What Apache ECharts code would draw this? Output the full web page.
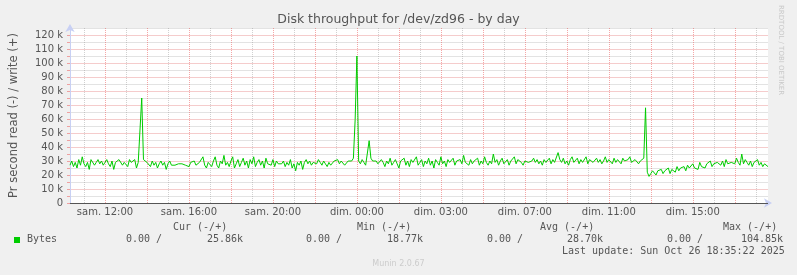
<!DOCTYPE html>
<html><head><meta charset="utf-8">
<script src="https://cdn.jsdelivr.net/npm/echarts@6/dist/echarts.min.js"></script>
<style>html,body{margin:0;padding:0;background:#f0f0f0}#c{width:797px;height:275px}</style>
</head><body><div id="c"></div>
<script>
// ---- data ----
const titleText = 'Disk throughput for /dev/zd96 - by day';
const yAxisName = 'Pr second read (-) / write (+)';
// x tick labels and the 5-minute sample index at which each falls
const tickLabels = ['sam. 12:00','sam. 16:00','sam. 20:00','dim. 00:00','dim. 03:00','dim. 07:00','dim. 11:00','dim. 15:00'];
const tickSamples = [20,68,116,164,212,260,308,356];
// y ticks (k)
const yTickValues = [0,10,20,30,40,50,60,70,80,90,100,110,120];
// write bytes per second, in k, one value per 5-minute sample
const writeK = [
27,30,26,29,25,31,27,33,28,26,29,24,31,30,27,29,31,28,30,27,
29,31,28,26,30,24,29,28,31,30,27,29,30,26,31,29,28,31,25,29,30,
75,
31,30,29,28,26,30,27,29,25,28,30,27,29,24,28,30,27,28,
27,26,28,27,28,28,27,28,26,29,28,30,27,26,29,28,33,27,25,29,
28,26,30,33,27,25,30,28,34,27,29,26,30,33,25,28,31,26,29,32,
27,30,25,31,28,33,26,29,31,27,30,25,32,28,29,27,31,26,30,28,
29,28,30,26,29,27,31,25,28,23,29,27,30,24,29,31,28,30,27,29,
30,28,31,29,27,30,28,26,29,27,28,30,29,31,28,30,29,27,28,30,31,30,
32,59.5,105,30,28,31,29,27,28,44.5,32,30,31,30,28,
27,31,29,26,30,28,32,27,29,31,28,25,30,29,32,27,30,26,31,29,28,33,27,
29,31,26,30,28,32,27,30,25,31,29,27,33,28,30,26,31,29,28,32,
27,30,29,31,28,34,29,30,27,31,28,30,29,32,27,30,28,33,29,27,
30,28,35,29,31,27,30,32,28,29,31,27,30,29,33,28,31,30,29,27,
30,31,29,28,30,32,29,31,28,30,27,31,29,30,32,28,31,29,30,36,
31,29,32,28,30,27,31,33,29,30,32,28,31,29,30,33,28,31,30,29,
30,32,29,31,28,30,33,29,31,30,28,32,29,31,30,28,32,30,29,31,33,29,30,31,32,28,30,31,32,
68,
22,19,21,23,22,20,23,22,24,21,23,22,25,21,24,23,22,26,23,25,
24,26,23,27,25,24,28,25,26,24,29,26,27,25,28,27,30,26,28,27,
29,28,27,30,26,31,28,27,29,30,28,32,29,27,35,28,31,29,27,30,
26,29,28,31,27,29,26,28,27,26
];
const seriesName = 'Bytes';
const statHeaders = ['Cur (-/+)','Min (-/+)','Avg (-/+)','Max (-/+)'];
const statRead = ['0.00 /','0.00 /','0.00 /','0.00 /'];
const statWrite = ['25.86k','18.77k','28.70k','104.85k'];
const lastUpdate = 'Last update: Sun Oct 26 18:35:22 2025';
const footer = 'Munin 2.0.67';
const sideText = 'RRDTOOL / TOBI OETIKER';

// ---- chart ----
const categories = writeK.map((_, i) => i);
const chart = echarts.init(document.getElementById('c'), null, {renderer: 'canvas'});
const sans = 'DejaVu Sans';
const RED = 'rgba(235,80,80,0.5)';
const GRAY = 'rgba(140,140,140,0.4)';
const RED_H = '#f5cccc';
const GRAY_H = '#e3e3e3';
const statHeaderX = [173, 357, 540, 723];
const statReadX = [126, 306, 487, 667];
const statWriteX = [207, 387, 567, 741];
const g = [];
g.push({type:'text', left:'center', top:13, style:{text:titleText, font:'12.5px "DejaVu Sans"', fill:'#555'}});
g.push({type:'text', x:784, y:5, rotation:-Math.PI/2, style:{text:sideText, font:'7px "DejaVu Sans"', fill:'#c8c8c8'}});
statHeaders.forEach((t,i)=>g.push({type:'text', x:statHeaderX[i], y:222, style:{text:t, font:'10px "DejaVu Sans Mono"', fill:'#555'}}));
g.push({type:'rect', shape:{x:14, y:237, width:6, height:6}, style:{fill:'#00cc00'}});
g.push({type:'text', x:27, y:234, style:{text:seriesName, font:'10px "DejaVu Sans Mono"', fill:'#555'}});
statRead.forEach((t,i)=>g.push({type:'text', x:statReadX[i], y:234, style:{text:t, font:'10px "DejaVu Sans Mono"', fill:'#555'}}));
statWrite.forEach((t,i)=>g.push({type:'text', x:statWriteX[i], y:234, style:{text:t, font:'10px "DejaVu Sans Mono"', fill:'#555'}}));
g.push({type:'text', x:562, y:246, style:{text:lastUpdate, font:'10px "DejaVu Sans Mono"', fill:'#555'}});
g.push({type:'text', left:'center', top:260, style:{text:footer, font:'8px "DejaVu Sans"', fill:'#ccc'}});

// vertical grid: one line per hour (gray), every second hour red (aligned with labels)
const gridLines = [];
categories.forEach((c, i) => {
  if (i >= 8 && (i - 8) % 12 === 0) {
    gridLines.push({xAxis: i, lineStyle: {color: ((i - 20) % 24 === 0) ? RED : GRAY, type: [1, 1], width: 1}});
  }
});

chart.setOption({
  animation:false,
  backgroundColor:'#f0f0f0',
  graphic:g,
  grid:{left:67, right:29, top:28, bottom:72, show:true, backgroundColor:'#fff', borderWidth:0},
  xAxis:{
    type:'category', data:categories, boundaryGap:false,
    axisLine:{show:true, lineStyle:{color:'#c8d0f4', width:1}, symbol:['none','arrow'], symbolSize:[7,8], symbolOffset:[0,4]},
    axisTick:{show:false},
    axisLabel:{show:true, interval:(i)=>tickSamples.includes(i), formatter:(v,i)=>tickLabels[tickSamples.indexOf(Number(v))] || '', color:'#555', fontFamily:sans, fontSize:10, margin:4},
    splitLine:{show:false}
  },
  yAxis:{
    type:'value', min:0, max:125, interval:5,
    axisLine:{show:true, lineStyle:{color:'#c8d0f4', width:1}, symbol:['none','arrow'], symbolSize:[7,8], symbolOffset:[0,4]},
    axisTick:{show:true, length:3, lineStyle:{color:RED}},
    axisLabel:{color:'#555', fontFamily:sans, fontSize:10, margin:7, formatter:(v)=> yTickValues.includes(v) ? (v===0 ? '0' : v+' k') : '', showMaxLabel:false},
    name:yAxisName, nameLocation:'middle', nameGap:50, nameTextStyle:{color:'#555', fontFamily:sans, fontSize:11.5},
    splitLine:{show:true, lineStyle:{color:[RED_H, GRAY_H], type:'solid', width:1}}
  },
  series:[{
    type:'line', name:seriesName, data:writeK, showSymbol:false, symbol:'none', z:3,
    lineStyle:{color:'#00cc00', width:1}, itemStyle:{color:'#00cc00'},
    markLine:{silent:true, symbol:'none', z:1, label:{show:false}, animation:false,
      data: gridLines.concat([{yAxis:0, lineStyle:{color:'#555', type:'solid', width:1}}])}
  }]
});
</script></body></html>
